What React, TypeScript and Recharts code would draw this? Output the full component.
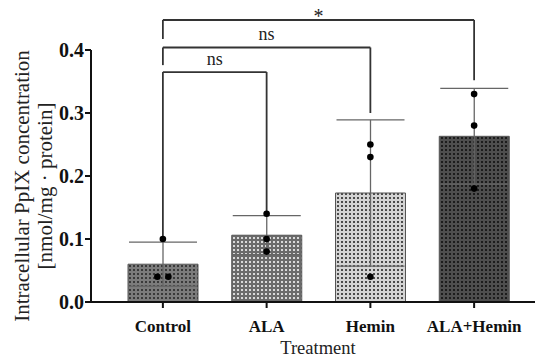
import {
  ComposedChart,
  Bar,
  Cell,
  ErrorBar,
  Scatter,
  XAxis,
  YAxis,
  ReferenceLine,
} from "recharts";

// Treatment groups
const groups = ["Control", "ALA", "Hemin", "ALA+Hemin"];
// Mean PpIX concentration (nmol/mg protein)
const means = [0.06, 0.106, 0.173, 0.263];
// Standard deviation
const sds = [0.035, 0.031, 0.116, 0.076];
// Individual replicates
const rep1 = [0.1, 0.14, 0.25, 0.33];
const rep2 = [0.04, 0.1, 0.23, 0.28];
const rep3 = [0.04, 0.08, 0.04, 0.18];
const yTicks = [0, 0.1, 0.2, 0.3, 0.4];

// Significance brackets: from, to, height, left leg end, right leg end, label
const brackets = [
  { from: "Control", to: "ALA", y: 0.365, leftEnd: 0.1, rightEnd: 0.14, text: "ns" },
  { from: "Control", to: "Hemin", y: 0.404, leftEnd: 0.376, rightEnd: 0.3, text: "ns" },
  { from: "Control", to: "ALA+Hemin", y: 0.4476, leftEnd: 0.4175, rightEnd: 0.352, text: "*" },
];

// base colour + dot colour per group pattern
const patterns = [
  { bg: "#7c7c7c", dot: "#3a3a3a" },
  { bg: "#6a6a6a", dot: "#d8d8d8" },
  { bg: "#d4d4d4", dot: "#4a4a4a" },
  { bg: "#4e4e4e", dot: "#1c1c1c" },
];

const data = groups.map((name, i) => ({
  name,
  mean: means[i],
  sd: sds[i],
  r1: rep1[i],
  r2: rep2[i],
  r3: rep3[i],
}));

const FONT = "Liberation Serif, DejaVu Serif, serif";

// dot that spreads out replicates sharing the same value
const makeDot = (key: "r1" | "r2" | "r3") => (props: any) => {
  const { cx, cy, payload } = props;
  if (cx == null || cy == null) return <g />;
  const keys = ["r1", "r2", "r3"].filter((k) => payload[k] === payload[key]);
  const n = keys.length;
  const idx = keys.indexOf(key);
  const dx = n > 1 ? (idx - (n - 1) / 2) * 11 : 0;
  return <circle cx={cx + dx} cy={cy} r={3.3} fill="#000" />;
};

const XTick = (props: any) => {
  const { x, y, payload } = props;
  return (
    <text x={x} y={y + 16} textAnchor="middle" fontFamily={FONT} fontSize={17} fontWeight={700} fill="#111">
      {payload.value}
    </text>
  );
};

const YTick = (props: any) => {
  const { x, y, payload } = props;
  return (
    <text x={x} y={y + 7} textAnchor="end" fontFamily={FONT} fontSize={20} fontWeight={700} fill="#111">
      {Number(payload.value).toFixed(1)}
    </text>
  );
};

const YLabel = (props: any) => {
  const vb = props.viewBox || { x: 0, y: 50, width: 91, height: 252 };
  const cy = vb.y + vb.height / 2 + 10;
  return (
    <g fontFamily={FONT} fontSize={21} fill="#222">
      <text x={29} y={cy} transform={`rotate(-90, 29, ${cy})`} textAnchor="middle">
        Intracellular PpIX concentration
      </text>
      <text x={52} y={cy} transform={`rotate(-90, 52, ${cy})`} textAnchor="middle">
        [nmol/mg · protein]
      </text>
    </g>
  );
};

export default function App() {
  return (
    <div style={{ position: "absolute", left: 0, top: 0, background: "#fff" }}>
      <ComposedChart
        width={550}
        height={362}
        data={data}
        margin={{ top: 50, right: 15, bottom: 0, left: 0 }}
        barCategoryGap={17}
      >
        <defs>
          {patterns.map((p, i) => (
            <pattern key={i} id={`dots${i}`} width={4} height={4} patternUnits="userSpaceOnUse">
              <rect width={4} height={4} fill={p.bg} />
              <rect x={1} y={1} width={2} height={2} fill={p.dot} />
            </pattern>
          ))}
        </defs>
        <XAxis
          dataKey="name"
          type="category"
          height={60}
          padding={{ left: 20, right: 9 }}
          axisLine={{ stroke: "#111", strokeWidth: 2 }}
          tickLine={{ stroke: "#111", strokeWidth: 2 }}
          tickSize={6}
          tickMargin={8}
          tick={<XTick />}
          label={{
            value: "Treatment",
            position: "insideBottom",
            offset: 8,
            dx: 5,
            style: { fontFamily: FONT, fontSize: 18.5, fill: "#222" },
          }}
        />
        <YAxis
          width={91}
          domain={[0, 0.4]}
          ticks={yTicks}
          allowDataOverflow
          axisLine={{ stroke: "#111", strokeWidth: 2 }}
          tickLine={{ stroke: "#111", strokeWidth: 2 }}
          tickSize={6}
          tickMargin={1}
          tick={<YTick />}
          label={<YLabel />}
        />
        <Bar dataKey="mean" isAnimationActive={false} stroke="#555" strokeWidth={1}>
          {data.map((d, i) => (
            <Cell key={d.name} fill={`url(#dots${i})`} />
          ))}
          <ErrorBar dataKey="sd" width={34} stroke="#666" strokeWidth={1.3} direction="y" />
        </Bar>
        {brackets.map((b) => (
          <ReferenceLine
            key={b.to + "-h"}
            segment={[
              { x: b.from, y: b.y },
              { x: b.to, y: b.y },
            ]}
            stroke="#333"
            strokeWidth={1.8}
            ifOverflow="visible"
            label={{
              value: b.text,
              position: "top",
              offset: b.text === "*" ? -3 : 7,
              style: { fontFamily: FONT, fontSize: b.text === "*" ? 20 : 18, fill: "#222" },
            }}
          />
        ))}
        {brackets.map((b) => (
          <ReferenceLine
            key={b.to + "-l"}
            segment={[
              { x: b.from, y: b.y },
              { x: b.from, y: b.leftEnd },
            ]}
            stroke="#333"
            strokeWidth={1.8}
            ifOverflow="visible"
          />
        ))}
        {brackets.map((b) => (
          <ReferenceLine
            key={b.to + "-r"}
            segment={[
              { x: b.to, y: b.y },
              { x: b.to, y: b.rightEnd },
            ]}
            stroke="#333"
            strokeWidth={1.8}
            ifOverflow="visible"
          />
        ))}
        <Scatter dataKey="r1" isAnimationActive={false} shape={makeDot("r1")} />
        <Scatter dataKey="r2" isAnimationActive={false} shape={makeDot("r2")} />
        <Scatter dataKey="r3" isAnimationActive={false} shape={makeDot("r3")} />
      </ComposedChart>
    </div>
  );
}
